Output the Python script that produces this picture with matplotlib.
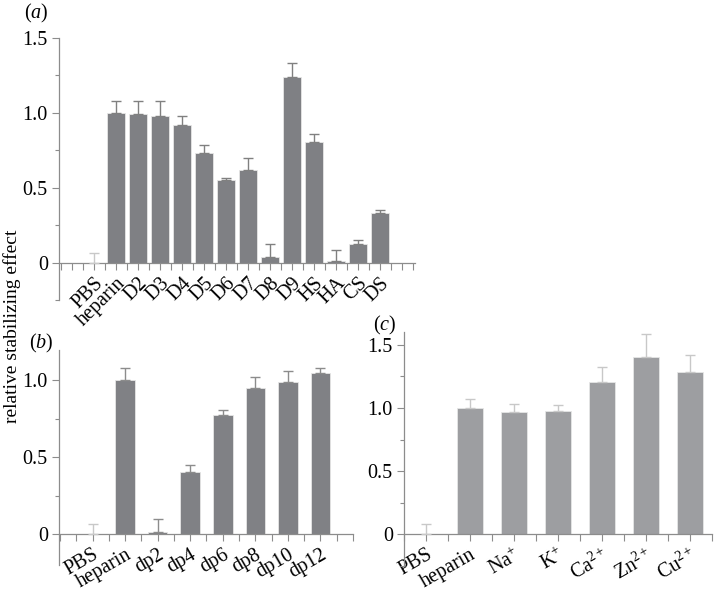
import numpy as np
import matplotlib.pyplot as plt
from matplotlib.ticker import MultipleLocator

plt.rcParams['font.family'] = ['Liberation Serif', 'DejaVu Serif']
plt.rcParams['mathtext.fontset'] = 'custom'
plt.rcParams['mathtext.rm'] = 'Liberation Serif'
plt.rcParams['mathtext.it'] = 'Liberation Serif:italic'

# panel (a)
labels_a = ['PBS', 'heparin', 'D2', 'D3', 'D4', 'D5', 'D6', 'D7', 'D8', 'D9', 'HS', 'HA', 'CS', 'DS']
vals_a = [0.0, 1.0, 0.993, 0.982, 0.918, 0.729, 0.551, 0.618, 0.04, 1.242, 0.807, 0.009, 0.124, 0.331]
err_a = [0.067, 0.082, 0.089, 0.10, 0.062, 0.058, 0.016, 0.08, 0.087, 0.094, 0.049, 0.075, 0.027, 0.018]

# panel (b)
labels_b = ['PBS', 'heparin', 'dp2', 'dp4', 'dp6', 'dp8', 'dp10', 'dp12']
vals_b = [0.0, 1.0, 0.017, 0.406, 0.775, 0.952, 0.989, 1.048]
err_b = [0.065, 0.082, 0.08, 0.043, 0.035, 0.07, 0.069, 0.034]

# panel (c)
labels_c = ['PBS', 'heparin', r'Na$^{+}$', r'K$^{+}$', r'Ca$^{2+}$', r'Zn$^{2+}$', r'Cu$^{2+}$']
vals_c = [0.0, 1.0, 0.968, 0.979, 1.205, 1.405, 1.287]
err_c = [0.082, 0.068, 0.066, 0.047, 0.116, 0.182, 0.129]

spine_col = '#8c8c8c'
fs_y = 14.5
fs_x = 14.5


def style(ax, xlim, ylim, yticks):
    ax.set_xlim(*xlim)
    ax.set_ylim(*ylim)
    ax.spines['top'].set_visible(False)
    ax.spines['right'].set_visible(False)
    ax.spines['bottom'].set_position(('data', 0))
    for s in ('left', 'bottom'):
        ax.spines[s].set_color(spine_col)
        ax.spines[s].set_linewidth(0.9)
    ax.set_yticks(yticks)
    ax.set_yticklabels(['0' if v == 0 else f'{v:.1f}' for v in yticks], fontsize=fs_y)
    ax.yaxis.set_minor_locator(MultipleLocator(0.25))
    ax.xaxis.set_minor_locator(MultipleLocator(0.5))
    ax.tick_params(which='both', direction='out', color=spine_col, width=0.8)
    ax.tick_params(which='major', length=5, pad=3)
    ax.tick_params(axis='x', which='minor', length=5)
    ax.tick_params(axis='y', which='minor', length=3)


def bars(ax, labels, vals, errs, width, color, ecolor, pbs_col, rot):
    x = np.arange(len(labels))
    ax.bar(x, vals, width=width, color=color, edgecolor='#e6e6e6', linewidth=0.6, zorder=2)
    ecols = [pbs_col] + [ecolor] * (len(labels) - 1)
    for xi, v, e, c in zip(x, vals, errs, ecols):
        ax.errorbar(xi, v, yerr=[[0], [e]], fmt='none', ecolor=c, elinewidth=1.0,
                    capsize=3.5, capthick=1.0, zorder=3)
    ax.set_xticks(x)
    ax.set_xticklabels(labels, fontsize=fs_x)
    for t in ax.get_xticklabels():
        t.set_rotation(rot)
        t.set_ha('right')
        t.set_va('top')
        t.set_rotation_mode('anchor')


fig = plt.figure(figsize=(7.14, 5.92), dpi=100)

ax_a = fig.add_axes([0.0826, 0.4932, 0.4986, 0.4426])
style(ax_a, (-1.6, 14.6), (-0.25, 1.5), [0, 0.5, 1.0, 1.5])
bars(ax_a, labels_a, vals_a, err_a, 0.82, '#7f8084', '#808080', '#c8c8c8', 45)

ax_b = fig.add_axes([0.0826, 0.0456, 0.4118, 0.364])
style(ax_b, (-1.03, 8.0), (-0.2, 1.2), [0, 0.5, 1.0])
bars(ax_b, labels_b, vals_b, err_b, 0.6, '#808185', '#8c8c8c', '#c8c8c8', 30)

ax_c = fig.add_axes([0.5658, 0.0439, 0.4314, 0.3953])
style(ax_c, (-0.5, 6.5), (-0.25, 1.6), [0, 0.5, 1.0, 1.5])
bars(ax_c, labels_c, vals_c, err_c, 0.6, '#9d9ea1', '#c8c8c8', '#c8c8c8', 30)

fig.text(0.017, 0.449, 'relative stabilizing effect', rotation=90, ha='center', va='center', fontsize=14)
fig.text(0.033, 0.978, r'($\it{a}$)', fontsize=fs_y, va='center', ha='left')
fig.text(0.040, 0.42, r'($\it{b}$)', fontsize=fs_y, va='center', ha='left')
fig.text(0.522, 0.451, r'($\it{c}$)', fontsize=fs_y, va='center', ha='left')

fig.savefig('out.png', dpi=100)
